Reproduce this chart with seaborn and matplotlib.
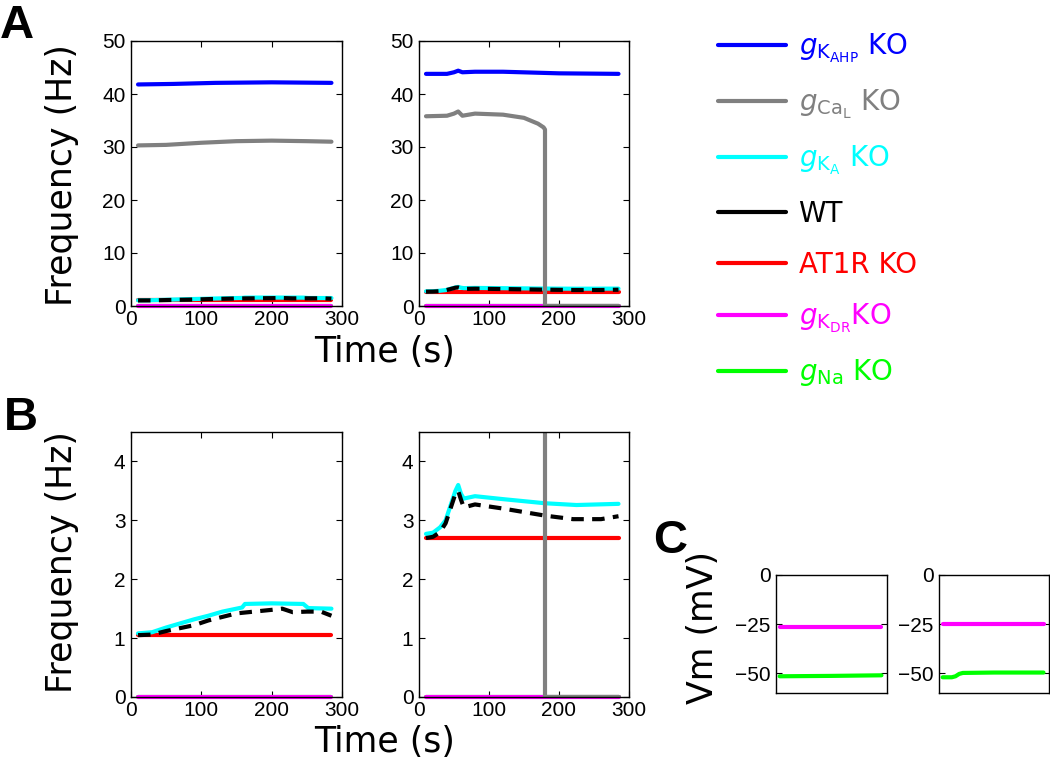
import numpy as np
import pandas as pd
import seaborn as sns
import matplotlib
matplotlib.use('Agg')
import matplotlib.pyplot as plt
from matplotlib.lines import Line2D

# ---- firing frequency (Hz), condition 1 (left column) ----
t_kahp_1 = [10, 60, 120, 200, 285]
f_kahp_1 = [41.8, 41.9, 42.1, 42.2, 42.1]
t_cal_1 = [10, 50, 100, 150, 200, 250, 285]
f_cal_1 = [30.3, 30.4, 30.8, 31.1, 31.2, 31.1, 31.0]
t_ka_1 = [10, 30, 50, 70, 90, 110, 130, 150, 158, 162, 200, 245, 252, 285]
f_ka_1 = [1.08, 1.10, 1.18, 1.25, 1.32, 1.38, 1.45, 1.50, 1.52, 1.58, 1.59, 1.58, 1.51, 1.50]
t_wt_1 = [10, 30, 50, 70, 90, 110, 130, 150, 175, 200, 215, 230, 250, 270, 285]
f_wt_1 = [1.05, 1.06, 1.12, 1.17, 1.22, 1.30, 1.36, 1.42, 1.45, 1.48, 1.50, 1.44, 1.45, 1.45, 1.38]
t_at1r_1 = [10, 285]
f_at1r_1 = [1.05, 1.05]
t_kdr_1 = [10, 285]
f_kdr_1 = [0, 0]
t_na_1 = [10, 285]
f_na_1 = [0, 0]

# ---- firing frequency (Hz), condition 2 (right column) ----
t_kahp_2 = [10, 40, 50, 56, 62, 80, 120, 200, 285]
f_kahp_2 = [43.8, 43.8, 44.1, 44.4, 44.1, 44.2, 44.2, 43.9, 43.8]
t_cal_2 = [10, 40, 50, 56, 62, 80, 120, 150, 170, 178, 180, 180, 285]
f_cal_2 = [35.8, 35.9, 36.3, 36.7, 35.9, 36.3, 36.1, 35.5, 34.4, 33.7, 33.3, 0, 0]
t_ka_2 = [10, 20, 30, 38, 45, 52, 56, 60, 64, 80, 120, 180, 225, 285]
f_ka_2 = [2.77, 2.79, 2.88, 3.0, 3.25, 3.5, 3.6, 3.45, 3.37, 3.41, 3.36, 3.29, 3.26, 3.28]
t_wt_2 = [10, 20, 30, 38, 45, 52, 56, 60, 64, 80, 120, 180, 220, 260, 285]
f_wt_2 = [2.70, 2.72, 2.8, 2.95, 3.2, 3.45, 3.5, 3.35, 3.22, 3.27, 3.2, 3.08, 3.02, 3.02, 3.07]
t_at1r_2 = [10, 285]
f_at1r_2 = [2.7, 2.7]
t_kdr_2 = [10, 285]
f_kdr_2 = [0, 0]
t_na_2 = [10, 285]
f_na_2 = [0, 0]

# ---- membrane potential (mV) ----
t_vm_kdr_1 = [10, 285]
vm_kdr_1 = [-26.5, -26.5]
t_vm_na_1 = [10, 150, 285]
vm_na_1 = [-51.5, -51.3, -51.0]
t_vm_kdr_2 = [10, 285]
vm_kdr_2 = [-25.0, -25.0]
t_vm_na_2 = [10, 35, 45, 55, 65, 150, 285]
vm_na_2 = [-52.0, -52.0, -51.5, -50.3, -49.8, -49.6, -49.6]

labels = [r'$g_{\mathrm{K}_{\mathrm{AHP}}}$ KO', r'$g_{\mathrm{Ca}_{\mathrm{L}}}$ KO',
          r'$g_{\mathrm{K}_{\mathrm{A}}}$ KO', 'WT', 'AT1R KO',
          r'$g_{\mathrm{K}_{\mathrm{DR}}}$KO', r'$g_{\mathrm{Na}}$ KO']
colors = ['#0000ff', '#808080', '#00ffff', '#000000', '#ff0000', '#ff00ff', '#00ff00']

sns.set_style('ticks', {'xtick.direction': 'in', 'ytick.direction': 'in'})
plt.rcParams.update({
    'font.family': ['Liberation Sans', 'DejaVu Sans'],
    'text.color': 'black', 'axes.labelcolor': 'black',
    'xtick.color': 'black', 'ytick.color': 'black',
    'xtick.top': True, 'ytick.right': True,
    'axes.linewidth': 1.0, 'axes.edgecolor': 'black',
    'xtick.major.size': 4, 'ytick.major.size': 4,
    'xtick.labelsize': 15, 'ytick.labelsize': 15,
    'xtick.major.pad': 3, 'ytick.major.pad': 4,
})


def draw_freq(ax, d):
    # draw order: green, magenta, red, cyan, blue, gray, black dashed
    kw = dict(ax=ax, lw=3, estimator=None, sort=False)
    sns.lineplot(x=d['na'][0], y=d['na'][1], color=colors[6], **kw)
    sns.lineplot(x=d['kdr'][0], y=d['kdr'][1], color=colors[5], clip_on=False, **kw)
    sns.lineplot(x=d['at1r'][0], y=d['at1r'][1], color=colors[4], **kw)
    sns.lineplot(x=d['ka'][0], y=d['ka'][1], color=colors[2], **kw)
    sns.lineplot(x=d['kahp'][0], y=d['kahp'][1], color=colors[0], **kw)
    sns.lineplot(x=d['cal'][0], y=d['cal'][1], color=colors[1], **kw)
    sns.lineplot(x=d['wt'][0], y=d['wt'][1], color=colors[3], linestyle=(0, (3, 2)), **kw)
    ax.set_xlim(0, 300)
    ax.set_xticks([0, 100, 200, 300])
    ax.set_xlabel('')
    ax.set_ylabel('')


cond1 = {'kahp': (t_kahp_1, f_kahp_1), 'cal': (t_cal_1, f_cal_1), 'ka': (t_ka_1, f_ka_1),
         'wt': (t_wt_1, f_wt_1), 'at1r': (t_at1r_1, f_at1r_1), 'kdr': (t_kdr_1, f_kdr_1),
         'na': (t_na_1, f_na_1)}
cond2 = {'kahp': (t_kahp_2, f_kahp_2), 'cal': (t_cal_2, f_cal_2), 'ka': (t_ka_2, f_ka_2),
         'wt': (t_wt_2, f_wt_2), 'at1r': (t_at1r_2, f_at1r_2), 'kdr': (t_kdr_2, f_kdr_2),
         'na': (t_na_2, f_na_2)}

fig = plt.figure(figsize=(10.5, 7.68), dpi=100)
W, H = 1050.0, 768.0


def add_ax(x0, y0, x1, y1):
    return fig.add_axes([x0 / W, 1 - y1 / H, (x1 - x0) / W, (y1 - y0) / H])


axA1 = add_ax(131, 41, 342, 306)
axA2 = add_ax(419, 41, 629, 306)
axB1 = add_ax(131, 432, 342, 697)
axB2 = add_ax(419, 432, 629, 697)
axC1 = add_ax(776, 575, 887, 693)
axC2 = add_ax(939, 575, 1049, 693)

for ax, cond in [(axA1, cond1), (axA2, cond2)]:
    draw_freq(ax, cond)
    ax.set_ylim(0, 50)
    ax.set_yticks([0, 10, 20, 30, 40, 50])
for ax, cond in [(axB1, cond1), (axB2, cond2)]:
    draw_freq(ax, cond)
    ax.set_ylim(0, 4.5)
    ax.set_yticks([0, 1, 2, 3, 4])

for ax, tk, vk, tn, vn in [(axC1, t_vm_kdr_1, vm_kdr_1, t_vm_na_1, vm_na_1),
                           (axC2, t_vm_kdr_2, vm_kdr_2, t_vm_na_2, vm_na_2)]:
    sns.lineplot(x=tk, y=vk, ax=ax, color=colors[5], lw=3, estimator=None, sort=False)
    sns.lineplot(x=tn, y=vn, ax=ax, color=colors[6], lw=3, estimator=None, sort=False)
    ax.set_xlim(0, 300)
    ax.set_ylim(-60, 0)
    ax.set_yticks([0, -25, -50])
    ax.set_xticks([])
    ax.set_xlabel('')
    ax.set_ylabel('')

# axis labels
lab = dict(family='DejaVu Sans', fontsize=25)
fig.text(385 / W, 1 - 352 / H, 'Time (s)', ha='center', va='center', **lab)
fig.text(385 / W, 1 - 742 / H, 'Time (s)', ha='center', va='center', **lab)
fig.text(62 / W, 1 - 175 / H, 'Frequency (Hz)', rotation=90, ha='center', va='center', **lab)
fig.text(62 / W, 1 - 562 / H, 'Frequency (Hz)', rotation=90, ha='center', va='center', **lab)
fig.text(703 / W, 1 - 627 / H, 'Vm (mV)', rotation=90, ha='center', va='center', **lab)

# panel letters
let = dict(family='Liberation Sans', fontsize=34, fontweight='bold', va='baseline', ha='left')
fig.text(0 / W, 1 - 38 / H, 'A', **let)
fig.text(4 / W, 1 - 430 / H, 'B', **let)
fig.text(653 / W, 1 - 553 / H, 'C', **let)

# legend
handles = [Line2D([], [], color=c, lw=3) for c in colors]
fig.legend(handles, labels, loc='upper left', bbox_to_anchor=(718 / W, 1 - 32 / H),
           frameon=False, borderaxespad=0, borderpad=0, handlelength=2.45, handletextpad=0.45,
           labelspacing=0.82, labelcolor='linecolor',
           prop={'family': 'DejaVu Sans', 'size': 20})

fig.savefig('out.png', dpi=100)
